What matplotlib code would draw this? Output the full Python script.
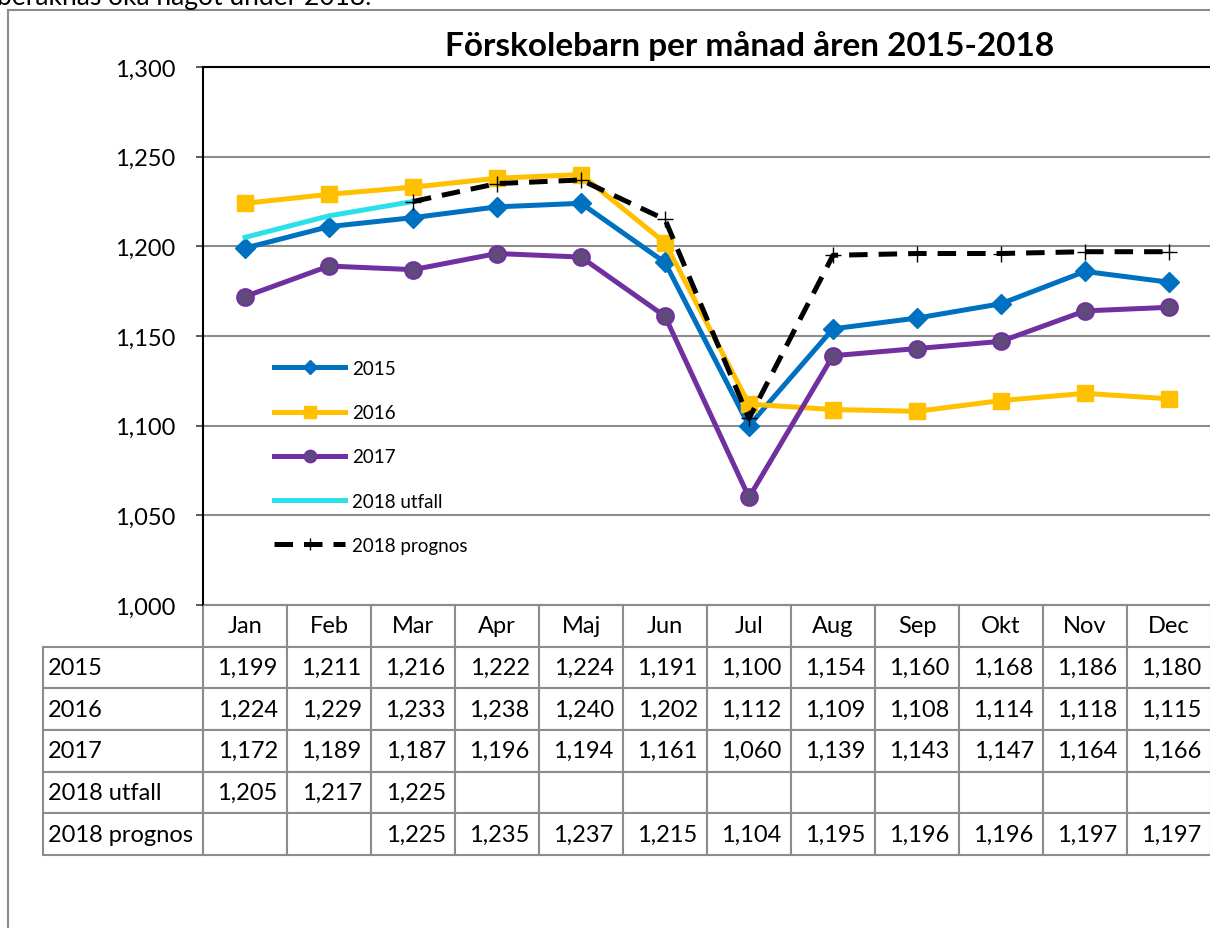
import matplotlib
matplotlib.use('Agg')
import matplotlib.pyplot as plt
from matplotlib.patches import Rectangle

plt.rcParams['font.family'] = ['Lato', 'DejaVu Sans']

months = ['Jan', 'Feb', 'Mar', 'Apr', 'Maj', 'Jun', 'Jul', 'Aug', 'Sep', 'Okt', 'Nov', 'Dec']
v2015 = [1199, 1211, 1216, 1222, 1224, 1191, 1100, 1154, 1160, 1168, 1186, 1180]
v2016 = [1224, 1229, 1233, 1238, 1240, 1202, 1112, 1109, 1108, 1114, 1118, 1115]
v2017 = [1172, 1189, 1187, 1196, 1194, 1161, 1060, 1139, 1143, 1147, 1164, 1166]
utfall = [1205, 1217, 1225, None, None, None, None, None, None, None, None, None]
prognos = [None, None, 1225, 1235, 1237, 1215, 1104, 1195, 1196, 1196, 1197, 1197]
labels = ['2015', '2016', '2017', '2018 utfall', '2018 prognos']

W, H = 1210, 929
fig = plt.figure(figsize=(W / 100, H / 100), dpi=100)

# outer frame of the embedded chart + clipped text above it
fig.patches.append(Rectangle((8 / W, -0.1), 1.2, 1 - 11 / H + 0.1, transform=fig.transFigure,
                             fill=False, edgecolor='#8c8c8c', linewidth=1.5))
fig.text(-3 / W, 1 - 5 / H, 'beräknas öka något under 2018.', fontsize=19, va='baseline')

ax = fig.add_axes([203 / W, 1 - 606 / H, 1008 / W, 538 / H])
x = list(range(12))


def clean(vals):
    return [float('nan') if v is None else v for v in vals]


ax.plot(x, v2015, color='#0070C0', lw=3.6, marker='D', ms=10, label=labels[0])
ax.plot(x, v2016, color='#FFC000', lw=3.6, marker='s', ms=12, label=labels[1])
ax.plot(x, v2017, color='#7030A0', lw=3.6, marker='o', ms=12, mfc='#604A7B', mec='#7030A0',
        mew=1.5, label=labels[2])
ax.plot(x, clean(utfall), color='#2BE0E8', lw=3.6, label=labels[3])
ax.plot(x, clean(prognos), color='black', lw=3.6, dashes=(3.7, 2.2), marker='+', ms=12, mew=1,
        label=labels[4])

ax.set_xlim(-0.5, 11.5)
ax.set_ylim(1000, 1300)
ax.set_yticks(range(1000, 1301, 50))
ax.set_yticklabels([f'{v:,}' for v in range(1000, 1301, 50)], fontsize=17)
ax.tick_params(axis='y', length=5, width=1.2, pad=15, color='#404040')
ax.set_xticks([])
ax.yaxis.grid(True, color='#8c8c8c', lw=1.5)
ax.set_axisbelow(True)
for s in ['left', 'top']:
    ax.spines[s].set_color('black')
    ax.spines[s].set_linewidth(1.5)
ax.spines['right'].set_visible(False)
ax.spines['bottom'].set_color('#8c8c8c')

fig.text(750 / W, 1 - 46 / H, 'Förskolebarn per månad åren 2015-2018', fontsize=24,
         fontweight='bold', ha='center', va='center')

fig.legend(loc='upper left', bbox_to_anchor=(274 / W, 1 - 361 / H), frameon=False, fontsize=13.5,
           handlelength=3.8, handletextpad=0.35, labelspacing=1.45, borderaxespad=0, borderpad=0,
           markerscale=0.7)

# data table under the plot
series = [v2015, v2016, v2017, utfall, prognos]
cell_text = []
for name, vals in zip(labels, series):
    cell_text.append([name] + ['' if v is None else f'{v:,}' for v in vals])
total = 160 + 1008
tab = ax.table(cellText=cell_text, colLabels=[''] + months,
               colWidths=[160 / total] + [84 / total] * 12,
               cellLoc='right', colLoc='center',
               bbox=[-160 / 1008, -250 / 538, total / 1008, 250 / 538])
tab.auto_set_font_size(False)
tab.set_fontsize(17)
for (r, c), cell in tab.get_celld().items():
    cell.set_edgecolor('#8c8c8c')
    cell.set_linewidth(1.5)
    cell.PAD = 0.11
    if c == 0:
        cell.PAD = 0.03
        cell.set_text_props(ha='left')
    if r == 0 and c == 0:
        cell.visible_edges = 'open'

fig.savefig('out.png', dpi=100)
